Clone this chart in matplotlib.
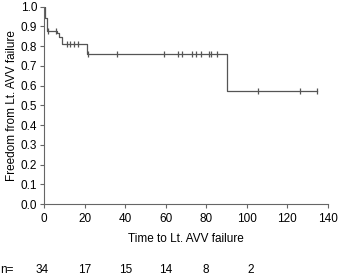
import numpy as np
import matplotlib
matplotlib.use("Agg")
import matplotlib.pyplot as plt

plt.rcParams['font.family'] = ['Liberation Sans', 'DejaVu Sans']

# step curve
step_t = [0, 0.35, 1.2, 6.2, 7.5, 8.8, 21.3, 90.3, 134.7]
step_s = [1.0, 0.94, 0.878, 0.866, 0.846, 0.81, 0.762, 0.575, 0.575]

# censored times
cens_t = [1.7, 5.8, 11.2, 12.8, 14.5, 16.9,
          21.8, 36.1, 59.3, 66.2, 68.2, 73.1, 75.1, 77.3, 81.4, 82.4, 85.6,
          105.4, 126.6, 134.7]

# numbers at risk (label positions as printed)
risk_t = [-1, 20, 40, 60, 80, 102]
risk_n = [34, 17, 15, 14, 8, 2]


def surv_at(t):
    s = step_s[0]
    for tt, ss in zip(step_t, step_s):
        if tt <= t:
            s = ss
    return s


fig = plt.figure(figsize=(3.38, 2.75), dpi=100)
ax = fig.add_axes([0.131, 0.258, 0.838, 0.718])

col = '#555555'
fs = 8.5
ax.step(step_t, step_s, where='post', color=col, linewidth=0.9)
cens_s = [surv_at(t) for t in cens_t]
ax.plot(cens_t, cens_s, linestyle='none', marker='|', markersize=4,
        markeredgewidth=0.9, color=col)

ax.set_xlim(0, 140)
ax.set_ylim(0, 1.0)
ax.set_xticks(np.arange(0, 141, 20))
ax.set_yticks(np.arange(0, 1.01, 0.1))
ax.set_yticklabels(['%.1f' % v for v in np.arange(0, 1.01, 0.1)])
ax.spines['top'].set_visible(False)
ax.spines['right'].set_visible(False)
for s in ['left', 'bottom']:
    ax.spines[s].set_color('#666666')
    ax.spines[s].set_linewidth(0.8)
ax.tick_params(labelsize=fs, length=3, width=0.8, color='#666666', pad=2)
ax.tick_params(axis='x', pad=3.5)
ax.set_xlabel("Time to Lt. AVV failure", fontsize=fs, labelpad=6)
ax.set_ylabel("Freedom from Lt. AVV failure", fontsize=fs, labelpad=2)

y_row = -0.335
ax.text(-0.156, y_row, "n=", transform=ax.transAxes, fontsize=fs,
        ha='left', va='center')
for t, n in zip(risk_t, risk_n):
    ax.text(t, y_row, str(n), transform=ax.get_xaxis_transform(),
            fontsize=fs, ha='center', va='center')

fig.savefig("out.png", dpi=100)
